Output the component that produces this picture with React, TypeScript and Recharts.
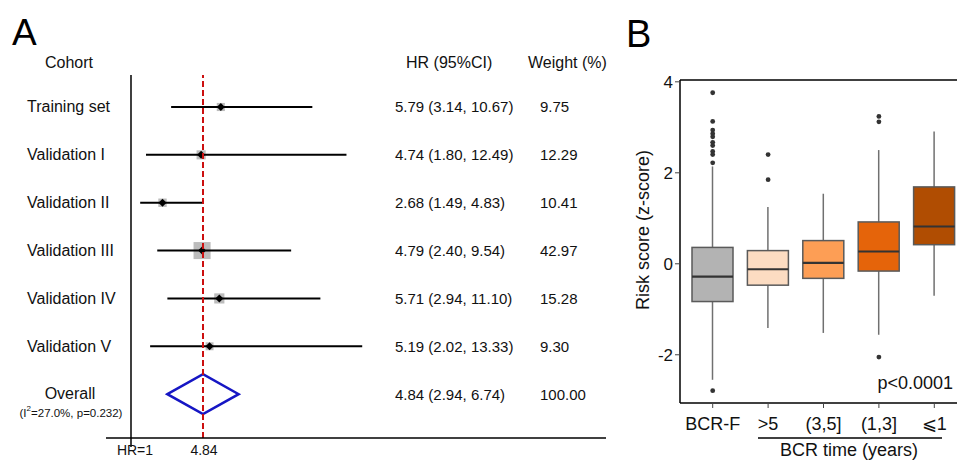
import React from "react";
import { ComposedChart, Bar, Scatter, XAxis, YAxis, ReferenceLine } from "recharts";

// ---- panel A: forest plot ----
const cohorts = [
  "Training set",
  "Validation I",
  "Validation II",
  "Validation III",
  "Validation IV",
  "Validation V",
  "Overall",
];
const hrValues = [5.79, 4.74, 2.68, 4.79, 5.71, 5.19, 4.84];
const ciLower = [3.14, 1.8, 1.49, 2.4, 2.94, 2.02, 2.94];
const ciUpper = [10.67, 12.49, 4.83, 9.54, 11.1, 13.33, 6.74];
const weights = [9.75, 12.29, 10.41, 42.97, 15.28, 9.3, 100.0];
const pooledHR = 4.84;
const hrTicks = [1, 4.84];
const hrDomain = [-0.333, 26.33];

// ---- panel B: box plot ----
const groups = ["BCR-F", ">5", "(3,5]", "(1,3]", "⩽1"];
const whiskerLow = [-2.55, -1.41, -1.52, -1.56, -0.7];
const quart1 = [-0.83, -0.47, -0.32, -0.16, 0.42];
const medians = [-0.28, -0.12, 0.02, 0.27, 0.82];
const quart3 = [0.36, 0.29, 0.51, 0.92, 1.69];
const whiskerHigh = [2.14, 1.25, 1.54, 2.5, 2.91];
const outlierValues = [
  [3.76, 3.13, 2.94, 2.86, 2.79, 2.67, 2.6, 2.47, 2.4, 2.22, -2.79],
  [2.4, 1.85],
  [],
  [3.24, 3.12, -2.05],
  [],
];
const riskTicks = [-2, 0, 2, 4];
const riskDomain = [-3.06, 4.04];

const boxColors = ["#b3b3b3", "#fcdcc2", "#fd9e55", "#e5640a", "#b04d02"];
const font = "'Liberation Sans', Arial, Helvetica, sans-serif";

const forestData = cohorts.map((name, i) => ({
  name,
  hr: hrValues[i],
  ci: [ciLower[i], ciUpper[i]],
  weight: weights[i],
}));

const boxData = groups.map((name, i) => ({
  name,
  box: [quart1[i], quart3[i]],
  median: medians[i],
  low: whiskerLow[i],
  high: whiskerHigh[i],
}));

const outlierData = groups.flatMap((name, i) => outlierValues[i].map((v) => ({ name, v })));

const ForestMark = (props: any) => {
  const { x, y, width, height, payload } = props;
  const cy = y + height / 2;
  const [lo, hi] = payload.ci;
  const px = x + (width * (payload.hr - lo)) / (hi - lo);
  if (payload.name === "Overall") {
    const h = 20;
    return (
      <polygon
        points={`${x},${cy} ${px},${cy - h} ${x + width},${cy} ${px},${cy + h}`}
        fill="none"
        stroke="#1616c4"
        strokeWidth={2.5}
      />
    );
  }
  const s = 2.6 * Math.sqrt(payload.weight);
  const d = 4;
  return (
    <g>
      <rect x={px - s / 2} y={cy - s / 2} width={s} height={s} fill="#bcbcbc" />
      <line x1={x} x2={x + width} y1={cy} y2={cy} stroke="#000" strokeWidth={2} />
      <polygon points={`${px - d},${cy} ${px},${cy - d} ${px + d},${cy} ${px},${cy + d}`} fill="#000" />
    </g>
  );
};

const CohortTick = (props: any) => {
  const { y, payload } = props;
  const row = forestData.find((r) => r.name === payload.value);
  if (!row) return null;
  const hrText = `${row.hr.toFixed(2)} (${row.ci[0].toFixed(2)}, ${row.ci[1].toFixed(2)})`;
  return (
    <g fontFamily={font} fill="#111">
      {row.name === "Overall" ? (
        <>
          <text x={70} y={y - 1} fontSize={16} textAnchor="middle" dominantBaseline="central">
            Overall
          </text>
          <text x={71} y={y + 19} fontSize={11.5} textAnchor="middle" dominantBaseline="central">
            (I
            <tspan dy={-5} fontSize={8}>
              2
            </tspan>
            <tspan dy={5}>=27.0%, p=0.232)</tspan>
          </text>
        </>
      ) : (
        <text x={27} y={y} fontSize={16} dominantBaseline="central">
          {row.name}
        </text>
      )}
      <text x={395} y={y} fontSize={15} dominantBaseline="central">
        {hrText}
      </text>
      <text x={540} y={y} fontSize={15} dominantBaseline="central">
        {row.weight.toFixed(2)}
      </text>
    </g>
  );
};

const HrTick = (props: any) => {
  const { x, y, payload } = props;
  const isOne = payload.value === 1;
  return (
    <g fontFamily={font}>
      {isOne && <line x1={x} x2={x} y1={y} y2={y + 9} stroke="#000" strokeWidth={1.5} />}
      <text
        x={isOne ? x + 4 : x + 1}
        y={y + 12}
        fontSize={14}
        textAnchor="middle"
        dominantBaseline="central"
        fill="#111"
      >
        {isOne ? "HR=1" : payload.value.toFixed(2)}
      </text>
    </g>
  );
};

const BoxMark = (props: any) => {
  const { x, width, payload, index } = props;
  const top = Math.min(props.y, props.y + props.height);
  const h = Math.abs(props.height);
  const [lo, hi] = payload.box;
  const toPx = (v: number) => top + ((hi - v) * h) / (hi - lo);
  const cx = x + width / 2;
  return (
    <g>
      <line x1={cx} x2={cx} y1={toPx(payload.high)} y2={top} stroke="#707070" strokeWidth={1.5} />
      <line x1={cx} x2={cx} y1={top + h} y2={toPx(payload.low)} stroke="#707070" strokeWidth={1.5} />
      <rect x={x} y={top} width={width} height={h} fill={boxColors[index]} stroke="#5a5a5a" strokeWidth={1.5} />
      <line x1={x} x2={x + width} y1={toPx(payload.median)} y2={toPx(payload.median)} stroke="#333" strokeWidth={2.2} />
    </g>
  );
};

export default function App() {
  return (
    <div
      style={{
        position: "absolute",
        left: 0,
        top: 0,
        width: 957,
        height: 462,
        overflow: "hidden",
        background: "#fff",
        fontFamily: font,
      }}
    >
      <div style={{ position: "absolute", left: 0, top: 0 }}>
        <ComposedChart
          width={620}
          height={462}
          layout="vertical"
          data={forestData}
          margin={{ top: 75, right: 14, bottom: 0, left: 6 }}
        >
          <XAxis
            xAxisId="hr"
            type="number"
            domain={hrDomain}
            allowDataOverflow
            ticks={hrTicks}
            height={24}
            tickSize={0}
            tickMargin={0}
            tick={<HrTick />}
            axisLine={{ stroke: "#000", strokeWidth: 1.5 }}
            tickLine={false}
          />
          <XAxis
            xAxisId="top"
            orientation="top"
            type="number"
            domain={hrDomain}
            allowDataOverflow
            height={0}
            tick={false}
            tickLine={false}
            axisLine={{ stroke: "#000", strokeWidth: 1.5 }}
          />
          <YAxis
            type="category"
            dataKey="name"
            width={100}
            interval={0}
            axisLine={false}
            tickLine={false}
            padding={{ top: 8, bottom: 20 }}
            tick={<CohortTick />}
          />
          <Bar xAxisId="hr" dataKey="ci" barSize={10} shape={<ForestMark />} isAnimationActive={false} />
          <ReferenceLine xAxisId="hr" x={1} stroke="#000" strokeWidth={1.5} />
          <ReferenceLine xAxisId="hr" x={pooledHR} stroke="#cc1010" strokeWidth={2} strokeDasharray="6 3" />
        </ComposedChart>
      </div>

      <div style={{ position: "absolute", left: 620, top: 0 }}>
        <ComposedChart
          width={350}
          height={462}
          data={boxData}
          margin={{ top: 80, right: 3, bottom: 29, left: 20 }}
        >
          <XAxis
            xAxisId="cat"
            dataKey="name"
            type="category"
            allowDuplicatedCategory={false}
            padding={{ left: 5, right: 5 }}
            height={30}
            tickSize={5}
            tickMargin={9}
            tick={{ fontSize: 18, fill: "#111", fontFamily: font }}
            axisLine={{ stroke: "#000", strokeWidth: 1.5 }}
            tickLine={{ stroke: "#444" }}
          />
          <YAxis
            type="number"
            domain={riskDomain}
            allowDataOverflow
            ticks={riskTicks}
            width={40}
            tickSize={5}
            tickMargin={2}
            tick={{ fontSize: 17, fill: "#111", fontFamily: font }}
            axisLine={{ stroke: "#000", strokeWidth: 1.5 }}
            tickLine={{ stroke: "#444" }}
          />
          <ReferenceLine xAxisId="cat" y={riskDomain[1]} stroke="#000" strokeWidth={1.5} />
          <Bar xAxisId="cat" dataKey="box" barSize={41} shape={<BoxMark />} isAnimationActive={false} />
          <Scatter
            xAxisId="cat"
            data={outlierData}
            dataKey="v"
            fill="#333"
            shape={(p: any) => <circle cx={p.cx} cy={p.cy} r={2.4} fill="#333" />}
            isAnimationActive={false}
          />
        </ComposedChart>
      </div>

      <svg
        width={957}
        height={462}
        style={{ position: "absolute", left: 0, top: 0, pointerEvents: "none" }}
        fontFamily={font}
      >
        <text x={12} y={45} fontSize={37} fill="#000">A</text>
        <text x={626} y={47} fontSize={38} fill="#000">B</text>
        <text x={45} y={62} fontSize={16} fill="#111" dominantBaseline="central">Cohort</text>
        <text x={406} y={62} fontSize={16} fill="#111" dominantBaseline="central">HR (95%CI)</text>
        <text x={528} y={62} fontSize={16} fill="#111" dominantBaseline="central">Weight (%)</text>
        <text
          x={643}
          y={230}
          fontSize={18}
          fill="#111"
          textAnchor="middle"
          dominantBaseline="central"
          transform="rotate(-90 643 230)"
        >
          Risk score (z-score)
        </text>
        <text x={953} y={383} fontSize={18} fill="#111" textAnchor="end" dominantBaseline="central">
          p&lt;0.0001
        </text>
        <line x1={758} x2={942} y1={438} y2={438} stroke="#000" strokeWidth={1.5} />
        <text x={849} y={450} fontSize={18} fill="#111" textAnchor="middle" dominantBaseline="central">
          BCR time (years)
        </text>
      </svg>
    </div>
  );
}
